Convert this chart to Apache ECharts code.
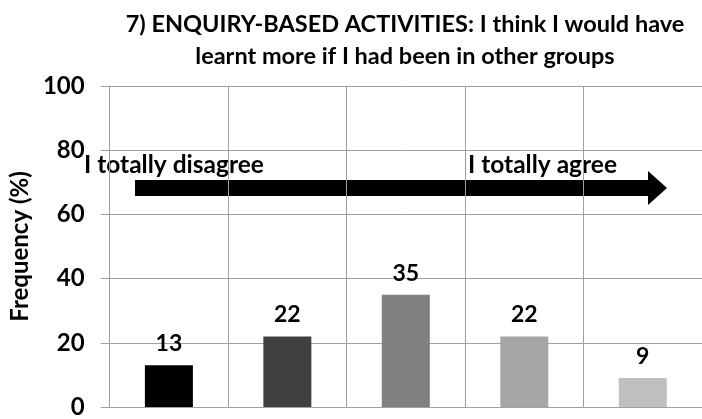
<!DOCTYPE html>
<html><head><meta charset="utf-8">
<script src="https://cdn.jsdelivr.net/npm/echarts@6/dist/echarts.min.js"></script>
<style>html,body{margin:0;padding:0;background:#fff}#c{width:702px;height:419px}</style>
</head><body><div id="c"></div>
<script>
const categories = ['1', '2', '3', '4', '5'];
const values = [13, 22, 35, 22, 9];
const barColors = ['#000000', '#404040', '#808080', '#a6a6a6', '#bfbfbf'];
const titleText = '7) ENQUIRY-BASED ACTIVITIES: I think I would have\nlearnt more if I had been in other groups';
const yName = 'Frequency (%)';
const leftNote = 'I totally disagree';
const rightNote = 'I totally agree';

const FONT = 'Lato';
const GRID = '#a0a0a0';
const chart = echarts.init(document.getElementById('c'), null, {renderer: 'canvas'});
chart.setOption({
  animation: false,
  title: {
    text: titleText, left: 400, top: 3, textAlign: 'center',
    textStyle: {fontFamily: FONT, fontWeight: 'bold', fontSize: 23.5, lineHeight: 32, color: '#000'}
  },
  grid: {left: 107, right: -10, top: 86, bottom: 7},
  xAxis: {
    type: 'category', data: categories,
    axisLine: {lineStyle: {color: GRID}}, axisTick: {show: false}, axisLabel: {show: false},
    splitLine: {show: true, lineStyle: {color: GRID}}
  },
  yAxis: {
    type: 'value', min: 0, max: 100, interval: 20,
    name: yName, nameLocation: 'middle', nameRotate: 90, nameGap: 69,
    nameTextStyle: {fontFamily: FONT, fontWeight: 'bold', fontSize: 24, color: '#000'},
    axisLine: {show: true, lineStyle: {color: GRID}},
    axisTick: {show: true, length: 9, lineStyle: {color: GRID}},
    axisLabel: {margin: 25, fontFamily: FONT, fontWeight: 'bold', fontSize: 24, color: '#000'},
    splitLine: {lineStyle: {color: GRID}}
  },
  series: [{
    type: 'bar', barWidth: 48,
    data: values.map((v, i) => ({value: v, itemStyle: {color: barColors[i]}})),
    label: {show: true, position: 'top', distance: 10, fontFamily: FONT, fontWeight: 'bold', fontSize: 23, color: '#000'}
  }],
  graphic: [
    {type: 'polygon', shape: {points: [[135,180],[648,180],[648,171],[667,188],[648,205],[648,196],[135,196]]}, style: {fill: '#000'}},
    {type: 'text', x: 84, y: 165, style: {text: leftNote, fontFamily: FONT, fontWeight: 'bold', fontSize: 24.5, fill: '#000', verticalAlign: 'middle'}},
    {type: 'text', x: 468, y: 165, style: {text: rightNote, fontFamily: FONT, fontWeight: 'bold', fontSize: 24.5, fill: '#000', verticalAlign: 'middle'}}
  ]
});
</script></body></html>
